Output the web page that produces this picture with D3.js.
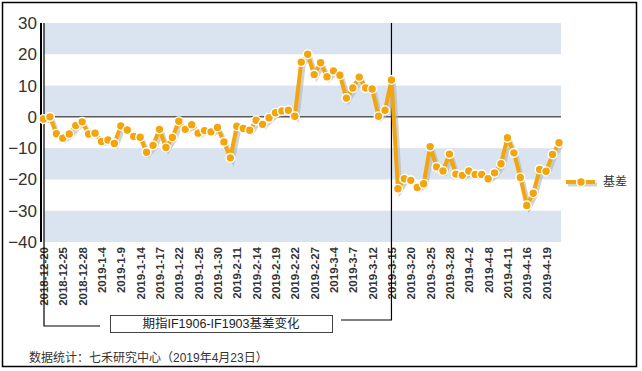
<!DOCTYPE html>
<html>
<head>
<meta charset="utf-8">
<script src="https://cdn.jsdelivr.net/npm/d3@7"></script>
<style>
  body { margin: 0; background: #fff; }
  text { font-family: "Liberation Sans", Arial, "Noto Sans CJK SC", sans-serif; }
</style>
</head>
<body>
<svg id="chart" width="642" height="371"></svg>
<script>
// trading days, 2018-12-20 .. 2019-4-23
const dates = [
  "2018-12-20","2018-12-21","2018-12-24","2018-12-25","2018-12-26","2018-12-27","2018-12-28",
  "2019-1-2","2019-1-3","2019-1-4","2019-1-7","2019-1-8","2019-1-9","2019-1-10","2019-1-11",
  "2019-1-14","2019-1-15","2019-1-16","2019-1-17","2019-1-18","2019-1-21","2019-1-22","2019-1-23",
  "2019-1-24","2019-1-25","2019-1-28","2019-1-29","2019-1-30","2019-1-31","2019-2-1",
  "2019-2-11","2019-2-12","2019-2-13","2019-2-14","2019-2-15","2019-2-18","2019-2-19","2019-2-20",
  "2019-2-21","2019-2-22","2019-2-25","2019-2-26","2019-2-27","2019-2-28","2019-3-1",
  "2019-3-4","2019-3-5","2019-3-6","2019-3-7","2019-3-8","2019-3-11","2019-3-12","2019-3-13",
  "2019-3-14","2019-3-15","2019-3-18","2019-3-19","2019-3-20","2019-3-21","2019-3-22",
  "2019-3-25","2019-3-26","2019-3-27","2019-3-28","2019-3-29","2019-4-1","2019-4-2","2019-4-3",
  "2019-4-4","2019-4-8","2019-4-9","2019-4-10","2019-4-11","2019-4-12","2019-4-15","2019-4-16",
  "2019-4-17","2019-4-18","2019-4-19","2019-4-22","2019-4-23"
];

// 基差 (IF1906 - IF1903)
const basis = [
  -0.7, 0, -5.4, -6.8, -5.5, -2.8, -1.6, -5.5, -5.2, -7.9, -7.4, -8.5, -2.9, -4.2, -6.3,
  -6.5, -11.3, -9.1, -4.0, -9.8, -6.6, -1.4, -4.0, -2.5, -5.2, -4.4, -4.8, -3.4, -8.0, -13.1,
  -3.0, -3.7, -4.3, -1.1, -2.4, -0.3, 1.3, 1.9, 2.1, 0.2, 17.5, 20.0, 13.5, 17.3, 12.8,
  14.7, 13.3, 6.0, 9.2, 12.7, 9.2, 8.9, 0.2, 2.1, 11.8, -23.0, -19.8, -20.3, -22.6, -21.4,
  -9.5, -16.0, -17.3, -11.9, -18.3, -18.7, -17.3, -18.4, -18.4, -19.8, -17.9, -15.0, -6.7, -11.5,
  -19.4, -28.3, -24.4, -16.8, -17.4, -12.0, -8.3
];

const yTicks = [-40, -30, -20, -10, 0, 10, 20, 30];
const seriesName = "基差";
const title = "期指IF1906-IF1903基差变化";
const note = "数据统计：七禾研究中心（2019年4月23日）";
const markDate = "2019-3-15";

const orange = "#f2a50c";
const bandColor = "#dae4f0";

const svg = d3.select("#chart");

// outer frame
svg.append("rect")
    .attr("x", 2.5).attr("y", 2.5)
    .attr("width", 634).attr("height", 364)
    .attr("fill", "#fff")
    .attr("stroke", "#000")
    .attr("stroke-width", 1.5);

const x = d3.scalePoint().domain(dates).range([43.5, 559]);
const y = d3.scaleLinear().domain([-40, 30]).range([242, 23]);
const plotLeft = 44, plotRight = 561;

// alternating bands, starting blue at the top
const bandPairs = d3.pairs(yTicks.slice().reverse()).filter((d, i) => i % 2 === 0);
svg.append("g")
    .selectAll("rect")
    .data(bandPairs)
    .join("rect")
    .attr("x", plotLeft)
    .attr("width", plotRight - plotLeft)
    .attr("y", d => y(d[0]))
    .attr("height", d => y(d[1]) - y(d[0]))
    .attr("fill", bandColor);

// zero line
svg.append("line")
    .attr("x1", plotLeft).attr("x2", plotRight)
    .attr("y1", y(0)).attr("y2", y(0))
    .attr("stroke", "#5a5a5a")
    .attr("stroke-width", 1.5);

// y axis
const yAxis = svg.append("g")
    .attr("transform", "translate(41,0)")
    .call(d3.axisLeft(y).tickValues(yTicks).tickSize(0).tickPadding(4));
yAxis.select(".domain").remove();
yAxis.selectAll("text")
    .attr("font-size", 17)
    .attr("fill", "#333")
    .style("font-family", "'Liberation Sans', Arial, sans-serif");
svg.append("line")
    .attr("x1", 41).attr("x2", 41)
    .attr("y1", y(30)).attr("y2", y(-40))
    .attr("stroke", "#000")
    .attr("stroke-width", 2);

// x axis, every third day
const xAxis = svg.append("g")
    .attr("transform", "translate(0," + y(-40) + ")")
    .call(d3.axisBottom(x).tickValues(dates.filter((d, i) => i % 3 === 0)).tickSize(0));
xAxis.select(".domain").remove();
xAxis.selectAll("text")
    .attr("transform", "rotate(-90)")
    .attr("text-anchor", "end")
    .attr("x", -5)
    .attr("y", 0)
    .attr("dy", "0.35em")
    .attr("font-size", 11.5)
    .attr("font-weight", "bold")
    .attr("fill", "#333")
    .style("font-family", "'Liberation Sans', Arial, sans-serif");

// annotation lines to the caption box
const xm = x(markDate);
svg.append("path")
    .attr("d", `M44,${y(30)}V326H100`)
    .attr("fill", "none").attr("stroke", "#000").attr("stroke-width", 1.2);
svg.append("path")
    .attr("d", `M${xm},${y(30)}V320H341`)
    .attr("fill", "none").attr("stroke", "#000").attr("stroke-width", 1.2);

// caption box
svg.append("rect")
    .attr("x", 110.5).attr("y", 315.5)
    .attr("width", 222).attr("height", 17)
    .attr("fill", "#fff").attr("stroke", "#444").attr("stroke-width", 1);
svg.append("text")
    .attr("x", 221).attr("y", 324)
    .attr("text-anchor", "middle")
    .attr("dy", "0.35em")
    .attr("font-size", 12.5)
    .attr("fill", "#222")
    .text(title);

svg.append("text")
    .attr("x", 29).attr("y", 358)
    .attr("dy", "0.35em")
    .attr("font-size", 12)
    .attr("fill", "#333")
    .text(note);

// series
const pts = dates.map((d, i) => ({ d: d, v: basis[i] }));
const line = d3.line().x(p => x(p.d)).y(p => y(p.v));

svg.append("path")
    .datum(pts)
    .attr("d", line)
    .attr("transform", "translate(2.5,2.5)")
    .attr("fill", "none")
    .attr("stroke", "#b4b4b4")
    .attr("stroke-opacity", 0.6)
    .attr("stroke-width", 4);

svg.append("path")
    .datum(pts)
    .attr("d", line)
    .attr("fill", "none")
    .attr("stroke", orange)
    .attr("stroke-width", 4)
    .attr("stroke-linejoin", "round");

svg.append("g")
    .selectAll("circle")
    .data(pts)
    .join("circle")
    .attr("cx", p => x(p.d))
    .attr("cy", p => y(p.v))
    .attr("r", 4.4)
    .attr("fill", orange)
    .attr("stroke", "#fff")
    .attr("stroke-width", 1.4);

// legend
const lg = svg.append("g").attr("transform", "translate(566,182)");
lg.append("line")
    .attr("x1", 2).attr("x2", 31).attr("y1", 2.5).attr("y2", 2.5)
    .attr("stroke", "#b4b4b4").attr("stroke-opacity", 0.6).attr("stroke-width", 4);
lg.append("line")
    .attr("x1", 0).attr("x2", 29)
    .attr("stroke", orange).attr("stroke-width", 4);
lg.append("circle")
    .attr("cx", 15).attr("r", 4.4)
    .attr("fill", orange).attr("stroke", "#fff").attr("stroke-width", 1.4);
lg.append("text")
    .attr("x", 37).attr("dy", "0.35em")
    .attr("font-size", 12)
    .attr("fill", "#333")
    .text(seriesName);
</script>
</body>
</html>
